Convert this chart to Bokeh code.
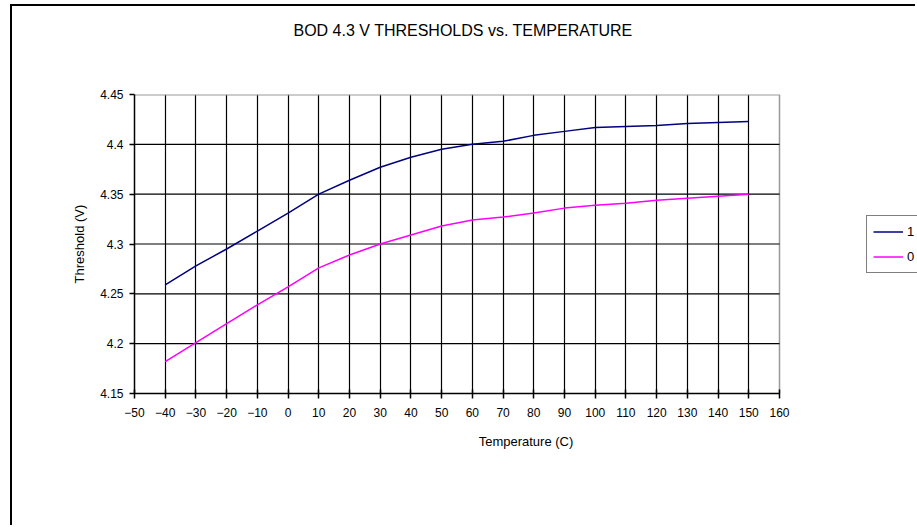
from bokeh.plotting import figure
from bokeh.models import Range1d, FixedTicker, Legend, LegendItem, Title, Grid
from bokeh.embed import file_html
from bokeh.resources import INLINE

# ---- data ----
temperature = [-40, -30, -20, -10, 0, 10, 20, 30, 40, 50, 60, 70, 80, 90, 100, 110, 120, 130, 140, 150]
thr_1 = [4.259, 4.278, 4.295, 4.313, 4.331, 4.350, 4.364, 4.377, 4.387, 4.395,
         4.400, 4.403, 4.409, 4.413, 4.417, 4.418, 4.419, 4.421, 4.422, 4.423]
thr_0 = [4.182, 4.201, 4.220, 4.239, 4.257, 4.276, 4.289, 4.300, 4.309, 4.318,
         4.324, 4.327, 4.331, 4.336, 4.339, 4.341, 4.344, 4.346, 4.348, 4.350]
x_ticks = [-50, -40, -30, -20, -10, 0, 10, 20, 30, 40, 50, 60, 70, 80, 90, 100, 110, 120, 130, 140, 150, 160]
y_ticks = [4.15, 4.2, 4.25, 4.3, 4.35, 4.4, 4.45]
x_grid = [-40, -30, -20, -10, 0, 10, 20, 30, 40, 50, 60, 70, 80, 90, 100, 110, 120, 130, 140, 150]
y_grid = [4.2, 4.25, 4.3, 4.35, 4.4]
series_names = ["1", "0"]

FONT = "Liberation Sans"

W, H = 905, 521
LEFT, TOP = 122, 88
PLOT_W, PLOT_H = 645, 299
x_min, x_max = x_ticks[0], x_ticks[-1]
y_min, y_max = y_ticks[0], y_ticks[-1]
# the frame runs on to the right edge so that the legend can sit there (cut off like the reference)
x_end = x_min + (x_max - x_min) * (W - LEFT) / PLOT_W

p = figure(width=W, height=H, output_backend="svg", toolbar_location=None,
           x_range=Range1d(x_min, x_end), y_range=Range1d(y_min, y_max),
           min_border_left=LEFT, min_border_top=TOP, min_border_right=0,
           min_border_bottom=H - TOP - PLOT_H,
           background_fill_color="white", border_fill_color="white")

# outer chart-area frame, cut off at the right and bottom edges of the picture
p.styles = {"border-left": "2px solid black", "border-top": "2px solid black",
            "margin-left": "10px", "margin-top": "4px"}

# trailing blank lines lift the title well above the plot area
t = Title(text="BOD 4.3 V THRESHOLDS vs. TEMPERATURE\n\n\n", align="left", vertical_align="bottom",
          text_font=FONT, text_font_size="16px", text_font_style="normal",
          text_color="black", standoff=10, offset=159)
p.add_layout(t, "above")

p.outline_line_color = None

# grids
p.xgrid.ticker = FixedTicker(ticks=x_grid)
p.xgrid.grid_line_color = "black"
p.xgrid.grid_line_width = 1.2
p.ygrid.grid_line_color = None

# horizontal grid lines only across the plot area
p.segment(x0=[x_min] * len(y_grid), y0=y_grid, x1=[x_max] * len(y_grid), y1=y_grid,
          line_color="black", line_width=1.2)

# gray plot-area edges (top and right)
p.add_layout(Grid(dimension=0, ticker=FixedTicker(ticks=[x_max]),
                  grid_line_color="#999999", grid_line_width=1.5))
p.segment(x0=[x_min], y0=[y_max], x1=[x_max], y1=[y_max], line_color="#999999", line_width=2)

# axes
p.xaxis.ticker = FixedTicker(ticks=x_ticks)
p.yaxis.ticker = FixedTicker(ticks=y_ticks)
p.xaxis.bounds = (x_min, x_max)
for ax in (p.xaxis, p.yaxis):
    ax.axis_line_color = "black"
    ax.axis_line_width = 1.5
    ax.major_tick_line_color = "black"
    ax.major_tick_line_width = 1.5
    ax.minor_tick_line_color = None
    ax.major_label_text_font = FONT
    ax.major_label_text_font_size = "12px"
    ax.major_label_text_color = "black"
    ax.axis_label_text_font = FONT
    ax.axis_label_text_font_size = "13px"
    ax.axis_label_text_font_style = "normal"
    ax.axis_label_text_color = "black"

p.xaxis.major_tick_out = 5
p.xaxis.major_tick_in = 4
p.xaxis.major_label_standoff = 9
p.xaxis.axis_label = "Temperature (C)"
p.xaxis.axis_label_standoff = 14

p.yaxis.major_tick_out = 5
p.yaxis.major_tick_in = 0
p.yaxis.major_label_standoff = 6
p.yaxis.axis_label = "Threshold (V)"
p.yaxis.axis_label_standoff = 10

r1 = p.line(temperature, thr_1, line_color="#000080", line_width=1.5)
r0 = p.line(temperature, thr_0, line_color="#FF00FF", line_width=1.5)

legend = Legend(items=[LegendItem(label=series_names[0], renderers=[r1]),
                       LegendItem(label=series_names[1], renderers=[r0])],
                location=(732, 120), orientation="vertical",
                border_line_color="black", border_line_width=1,
                background_fill_color="white", background_fill_alpha=1,
                padding=6, spacing=6, margin=0,
                glyph_width=30, glyph_height=19, label_height=19, label_standoff=4,
                label_text_font=FONT, label_text_font_size="13px", label_text_color="black")
p.add_layout(legend)

open("out.html", "w").write(file_html(p, INLINE))
